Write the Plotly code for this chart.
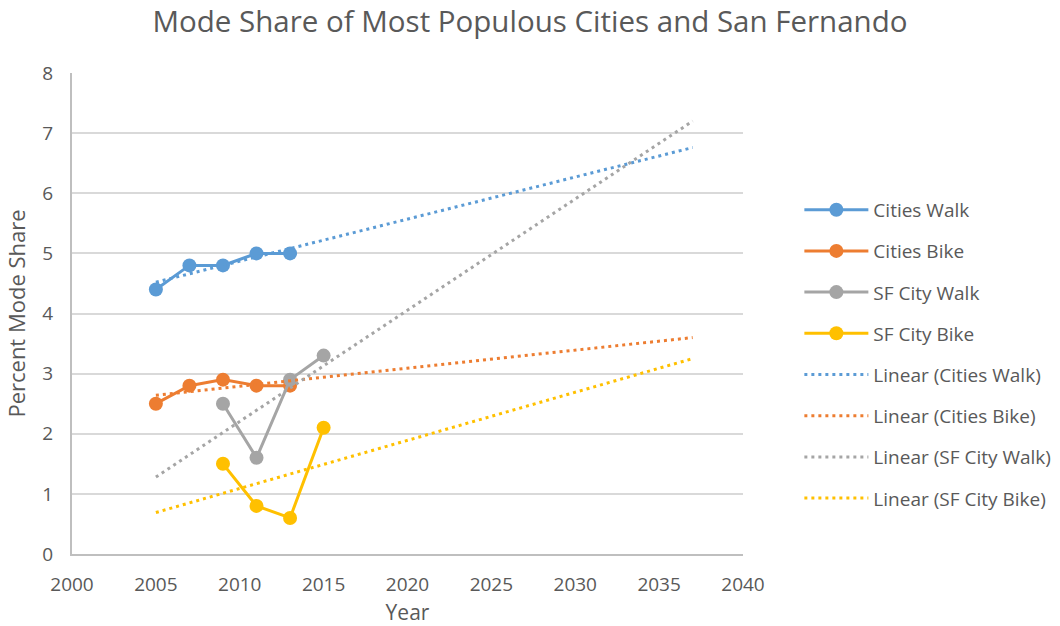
import numpy as np
import plotly.graph_objects as go

# Survey years and mode share (%) for each series
cities_years = [2005, 2007, 2009, 2011, 2013]
cities_walk = [4.4, 4.8, 4.8, 5.0, 5.0]
cities_bike = [2.5, 2.8, 2.9, 2.8, 2.8]

sf_years = [2009, 2011, 2013, 2015]
sf_walk = [2.5, 1.6, 2.9, 3.3]
sf_bike = [1.5, 0.8, 0.6, 2.1]

series_names = ["Cities Walk", "Cities Bike", "SF City Walk", "SF City Bike"]
series_colors = ["#5B9BD5", "#ED7D31", "#A5A5A5", "#FFC000"]

# Trendline extent: all linear fits drawn over the same span of years
trend_start, trend_end = 2005, 2037

FONT = "Open Sans"
TEXT = "#595959"

series = [
    (cities_years, cities_walk),
    (cities_years, cities_bike),
    (sf_years, sf_walk),
    (sf_years, sf_bike),
]

fig = go.Figure()

for i, ((xs, ys), name, color) in enumerate(zip(series, series_names, series_colors)):
    fig.add_trace(go.Scatter(
        x=xs, y=ys, name=name, mode="lines+markers",
        line=dict(color=color, width=3),
        marker=dict(color=color, size=14),
        legendgroup=f"g{i}",
    ))

for i, ((xs, ys), name, color) in enumerate(zip(series, series_names, series_colors)):
    slope, intercept = np.polyfit(xs, ys, 1)
    tx = np.array([trend_start, trend_end])
    fig.add_trace(go.Scatter(
        x=tx, y=slope * tx + intercept, name=f"Linear ({name})", mode="lines",
        line=dict(color=color, width=3, dash="3px,4px"),
        legendgroup=f"t{i}",
    ))

fig.update_layout(
    width=1060, height=626,
    margin=dict(l=72, r=317, t=73, b=72, autoexpand=False),
    paper_bgcolor="white", plot_bgcolor="white",
    font=dict(family=FONT, color=TEXT, size=18),
    title=dict(
        text="Mode Share of Most Populous Cities and San Fernando",
        x=0.5, xref="container", xanchor="center", y=0.965, yanchor="middle",
        font=dict(size=29.5, color=TEXT, family=FONT),
    ),
    xaxis=dict(
        range=[2000, 2040], dtick=5, tick0=2000, automargin=False,
        showgrid=False, showline=True, linecolor="#BFBFBF", linewidth=2,
        ticks="", ticklabelstandoff=12, zeroline=False,
        tickfont=dict(size=19),
        title=dict(text="Year", font=dict(size=21, color=TEXT), standoff=26),
    ),
    yaxis=dict(
        range=[0, 8], dtick=1, tick0=0, automargin=False,
        showgrid=True, gridcolor="#D9D9D9", gridwidth=2,
        showline=True, linecolor="#BFBFBF", linewidth=2,
        ticks="", ticklabelstandoff=13, zeroline=False,
        tickfont=dict(size=19),
        title=dict(text="Percent Mode Share", font=dict(size=22, color=TEXT), standoff=11),
    ),
    legend=dict(
        x=1.084, xanchor="left", y=0.755, yanchor="top",
        font=dict(size=19, color=TEXT, family=FONT),
        tracegroupgap=13.5, bgcolor="rgba(0,0,0,0)",
        itemwidth=64,
    ),
    showlegend=True,
)

fig.write_html("out.html")
